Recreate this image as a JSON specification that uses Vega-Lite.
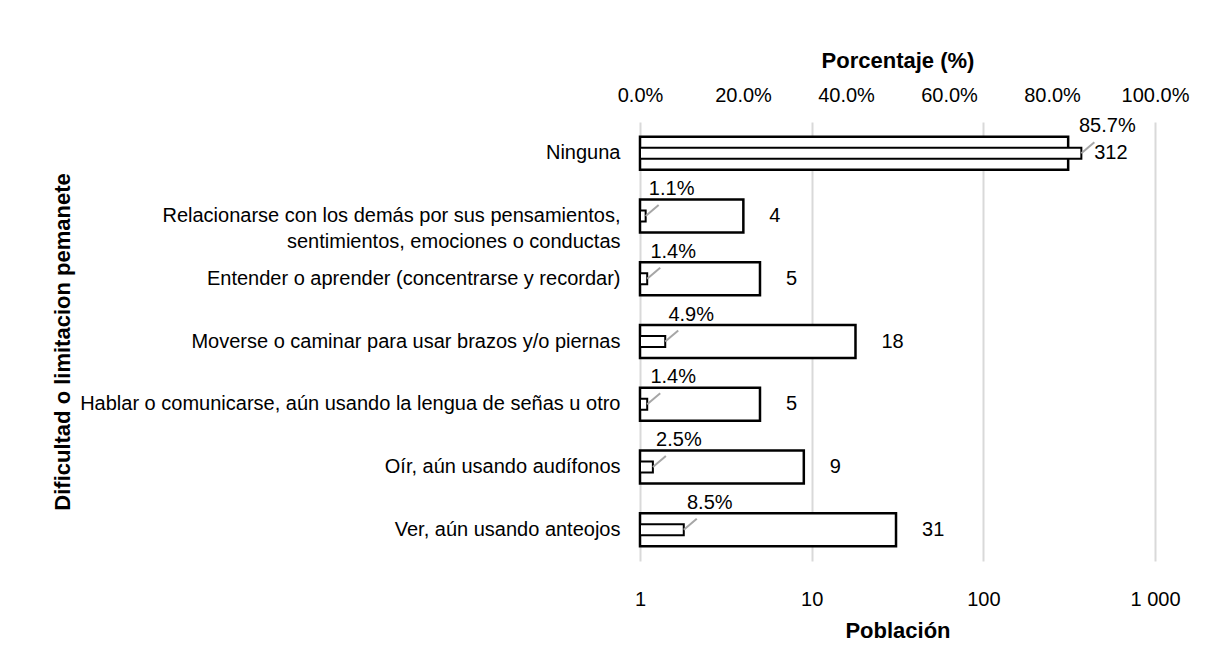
{
  "$schema": "https://vega.github.io/schema/vega-lite/v6.json",
  "width": 515,
  "height": 439,
  "autosize": "none",
  "padding": {"left": 640, "top": 122, "right": 55, "bottom": 109},
  "background": "white",
  "config": {
    "font": "Liberation Sans, Arial",
    "view": {"stroke": null},
    "axis": {"labelFont": "Liberation Sans, Arial", "titleFont": "Liberation Sans, Arial", "labelColor": "black", "titleColor": "black"}
  },
  "data": {
    "values": [
      {"cat": "Ninguna", "pob": 312, "pct": 0.857},
      {"cat": "Relacionarse con los demás por sus pensamientos, sentimientos, emociones o conductas", "pob": 4, "pct": 0.011},
      {"cat": "Entender o aprender (concentrarse y recordar)", "pob": 5, "pct": 0.014},
      {"cat": "Moverse o caminar para usar brazos y/o piernas", "pob": 18, "pct": 0.049},
      {"cat": "Hablar o comunicarse, aún usando la lengua de señas u otro", "pob": 5, "pct": 0.014},
      {"cat": "Oír, aún usando audífonos", "pob": 9, "pct": 0.025},
      {"cat": "Ver, aún usando anteojos", "pob": 31, "pct": 0.085}
    ]
  },
  "encoding": {
    "y": {
      "field": "cat",
      "type": "nominal",
      "sort": null,
      "scale": {"paddingInner": 0.47, "paddingOuter": 0.235},
      "axis": {
        "title": "Dificultad o limitacion pemanete",
        "titleFontSize": 22,
        "titleFontWeight": "bold",
        "titleX": -578,
        "titleAlign": "center",
        "titleBaseline": "middle",
        "labelFontSize": 20,
        "labelPadding": 20,
        "labelLimit": 600,
        "ticks": false,
        "domain": false,
        "labelExpr": "indexof(datum.label, 'pensamientos,') >= 0 ? ['Relacionarse con los demás por sus pensamientos,', 'sentimientos, emociones o conductas'] : datum.label",
        "labelLineHeight": 26
      }
    }
  },
  "layer": [
    {
      "encoding": {
        "x": {
          "field": "pob",
          "type": "quantitative",
          "scale": {"type": "log", "domain": [1, 1000]},
          "axis": {
            "orient": "bottom",
            "title": "Población",
            "titleFontSize": 22,
            "titleFontWeight": "bold",
            "titlePadding": 11,
            "values": [1, 10, 100, 1000],
            "labelExpr": "replace(format(datum.value, ','), ',', ' ')",
            "labelFontSize": 20,
            "labelPadding": 28,
            "labelFlush": false,
            "ticks": false,
            "domain": false,
            "grid": true,
            "gridColor": "#d9d9d9",
            "gridWidth": 2
          }
        }
      },
      "layer": [
        {
          "mark": {"type": "bar", "fill": "white", "stroke": "black", "strokeWidth": 2.5, "height": 33},
          "encoding": {"x2": {"datum": 1}}
        },
        {
          "mark": {"type": "text", "align": "left", "baseline": "middle", "dx": 26, "fontSize": 20},
          "encoding": {"text": {"field": "pob", "type": "quantitative"}}
        }
      ]
    },
    {
      "encoding": {
        "x": {
          "field": "pct",
          "type": "quantitative",
          "scale": {"domain": [0, 1]},
          "axis": {
            "orient": "top",
            "title": "Porcentaje (%)",
            "titleFontSize": 22,
            "titleFontWeight": "bold",
            "titlePadding": 13,
            "format": ".1%",
            "values": [0, 0.2, 0.4, 0.6, 0.8, 1],
            "labelFontSize": 20,
            "labelPadding": 17,
            "labelFlush": false,
            "ticks": false,
            "domain": false,
            "grid": false
          }
        }
      },
      "layer": [
        {"mark": {"type": "bar", "fill": "white", "stroke": "black", "strokeWidth": 2, "height": 11}},
        {
          "mark": {"type": "rule", "color": "#a6a6a6", "strokeWidth": 2, "x2Offset": 13, "y2Offset": -11},
          "encoding": {"x2": {"field": "pct"}, "y2": {"field": "cat"}}
        },
        {
          "mark": {"type": "text", "align": "center", "baseline": "middle", "dx": 26, "dy": -27, "fontSize": 20},
          "encoding": {"text": {"field": "pct", "type": "quantitative", "format": ".1%"}}
        }
      ]
    }
  ],
  "resolve": {"scale": {"x": "independent"}}
}
